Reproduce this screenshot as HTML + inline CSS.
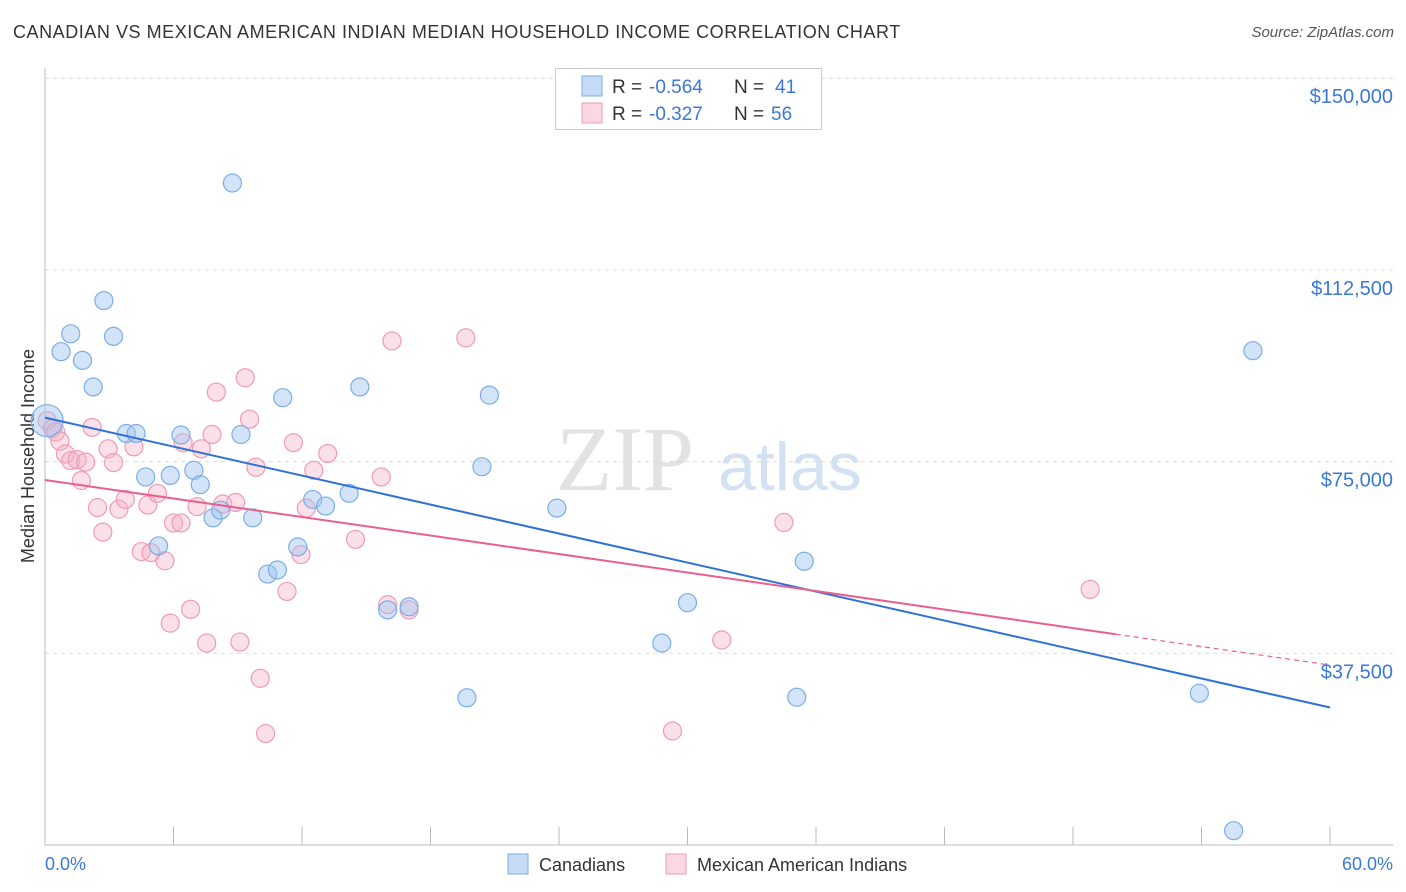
<!DOCTYPE html>
<html><head><meta charset="utf-8">
<style>
body{margin:0;background:#fff;font-family:"Liberation Sans",sans-serif;}
#wrap{position:relative;width:1406px;height:892px;overflow:hidden;}
.t{position:absolute;white-space:nowrap;}
</style></head>
<body>
<div id="wrap">
<div class="t" style="left:13px;top:22px;font-size:18px;color:#333;letter-spacing:0.55px;">CANADIAN VS MEXICAN AMERICAN INDIAN MEDIAN HOUSEHOLD INCOME CORRELATION CHART</div>
<div class="t" style="right:12px;top:24px;font-size:15px;color:#555;font-style:italic;">Source: ZipAtlas.com</div>
<svg id="svg" width="1406" height="892" style="position:absolute;left:0;top:0"></svg>
</div>
<script>
const yTicks=[37500,75000,112500,150000];
const yTickLabels=["$37,500","$75,000","$112,500","$150,000"];
const canX=[0.1,0.75,1.2,1.75,2.25,2.75,3.2,3.8,4.25,4.7,5.3,5.85,6.35,6.95,7.25,7.85,8.2,8.75,9.15,9.7,10.4,10.85,11.1,11.8,12.5,13.1,14.2,14.7,16.0,17.0,19.7,20.4,20.75,23.9,28.8,30.0,35.1,35.45,53.9,56.4,55.5];
const canY=[83000,96500,100000,94800,89600,106500,99500,80500,80500,72000,58500,72300,80200,73300,70500,64000,65500,129500,80300,64000,53000,53800,87500,58300,67600,66300,68800,89600,46000,46600,28800,74000,88000,65900,39500,47400,28900,55500,29700,96700,2800];
const mexX=[0.1,0.35,0.5,0.7,0.95,1.2,1.5,1.7,1.9,2.2,2.45,2.7,2.95,3.2,3.45,3.75,4.15,4.5,4.8,4.95,5.25,5.6,5.85,6.0,6.35,6.45,6.8,7.1,7.3,7.55,7.8,8.0,8.3,8.9,9.1,9.35,9.55,9.85,10.05,10.3,11.3,11.6,11.95,12.2,12.55,13.2,14.5,15.7,16.0,16.2,17.0,19.65,29.3,31.6,34.5,48.8];
const mexY=[83000,81500,80800,79000,76500,75200,75400,71300,74900,81700,66000,61200,77500,74800,65700,67600,77900,57400,66500,57200,68800,55600,43400,63000,63000,78700,46100,66200,77500,39500,80300,88600,66700,67000,39700,91400,83300,73900,32600,21800,49600,78700,56800,65900,73300,76600,59800,72000,47000,98600,46000,99200,22300,40100,63100,50000];
const canFit=[83600,26900];
const mexFit=[71400,35200];
const mexSolidEnd=50;

const svg=document.getElementById('svg');
const NS='http://www.w3.org/2000/svg';
const X0=45,X1=1330,Y0=845,PPY=191.7/37500;
const sx=v=>X0+(v/60)*(X1-X0);
const sy=v=>Y0-v*PPY;
function mk(tag,attrs){const e=document.createElementNS(NS,tag);for(const k in attrs)e.setAttribute(k,attrs[k]);svg.appendChild(e);return e;}

let wm=mk('text',{x:556,y:490,'font-size':92,fill:'#e2e2e2','font-family':'Liberation Serif'});wm.textContent='ZIP';


let wm2=mk('text',{x:718,y:490,'font-size':68,fill:'#d3e1f3','font-family':'Liberation Sans'});wm2.textContent='atlas';



yTicks.forEach((v,i)=>{
 const g=mk('line',{x1:X0,x2:1393,y1:sy(v),y2:sy(v),stroke:'#dcdcdc','stroke-dasharray':'4,4'});
 
 
 const t=mk('text',{x:1393,y:sy(v)+25,'text-anchor':'end','font-size':20,fill:'#3b78d8'});t.textContent=yTickLabels[i];
 
 
});
const ya=mk('line',{x1:X0,x2:X0,y1:68,y2:Y0,stroke:'#bbb'});


const xa=mk('line',{x1:X0,x2:1393,y1:Y0,y2:Y0,stroke:'#bbb'});


for(let i=0;i<=10;i++){const tk=mk('line',{x1:sx(i*6),x2:sx(i*6),y1:Y0,y2:Y0-18,stroke:'#bbb'});
 
 }
let xl=mk('text',{x:45,y:870,'font-size':18,fill:'#3b78d8'});xl.textContent='0.0%';


let xr=mk('text',{x:1393,y:870,'font-size':18,fill:'#3b78d8','text-anchor':'end'});xr.textContent='60.0%';


let yt=mk('text',{x:34,y:456,'font-size':18,fill:'#333','text-anchor':'middle',transform:'rotate(-90 34 456)'});yt.textContent='Median Household Income';



mexX.forEach((x,i)=>{const c=mk('circle',{cx:sx(x),cy:sy(mexY[i]),r:9,fill:'rgba(246,178,200,0.4)',stroke:'#f09ab5','stroke-width':1.2});
 
 });
canX.forEach((x,i)=>{const c=mk('circle',{cx:sx(x),cy:sy(canY[i]),r:i===0?16:9,fill:'rgba(160,196,240,0.45)',stroke:'#7aaee6','stroke-width':1.2});
 
 });

const cl=mk('line',{x1:sx(0),y1:sy(canFit[0]),x2:sx(60),y2:sy(canFit[1]),stroke:'#2f72d6','stroke-width':2});


const ym=v=>mexFit[0]+(mexFit[1]-mexFit[0])*v/60;
const ml=mk('line',{x1:sx(0),y1:sy(ym(0)),x2:sx(mexSolidEnd),y2:sy(ym(mexSolidEnd)),stroke:'#e8608f','stroke-width':2});


const md=mk('line',{x1:sx(mexSolidEnd),y1:sy(ym(mexSolidEnd)),x2:sx(60),y2:sy(ym(60)),stroke:'#e8608f','stroke-width':1.2,'stroke-dasharray':'5,4'});



const lb=mk('rect',{x:555.5,y:68.5,width:266,height:61,fill:'#fff',stroke:'#ccc'});


[[{f:'rgba(160,196,240,0.6)',s:'#7aaee6'},'-0.564','41',86],[{f:'rgba(246,178,200,0.5)',s:'#f09ab5'},'-0.327','56',113]].forEach(([c,r,n,y],i)=>{
 const sw=mk('rect',{x:582,y:y-10,width:20,height:20,fill:c.f,stroke:c.s});
 
 
 const t=mk('text',{x:612,y:y+7,'font-size':19,fill:'#333'});
 t.innerHTML='R = <tspan fill="#3b78d8" x="649">'+r+'</tspan><tspan x="734">N = </tspan><tspan fill="#3b78d8" x="'+(i?771:775)+'">'+n+'</tspan>';
 
 
});

const b1=mk('rect',{x:508,y:854,width:20,height:20,fill:'rgba(160,196,240,0.6)',stroke:'#7aaee6'});


let bt1=mk('text',{x:539,y:871,'font-size':18,fill:'#333'});bt1.textContent='Canadians';


const b2=mk('rect',{x:666,y:854,width:20,height:20,fill:'rgba(246,178,200,0.5)',stroke:'#f09ab5'});


let bt2=mk('text',{x:697,y:871,'font-size':18,fill:'#333'});bt2.textContent='Mexican American Indians';


</script>
</body></html>
